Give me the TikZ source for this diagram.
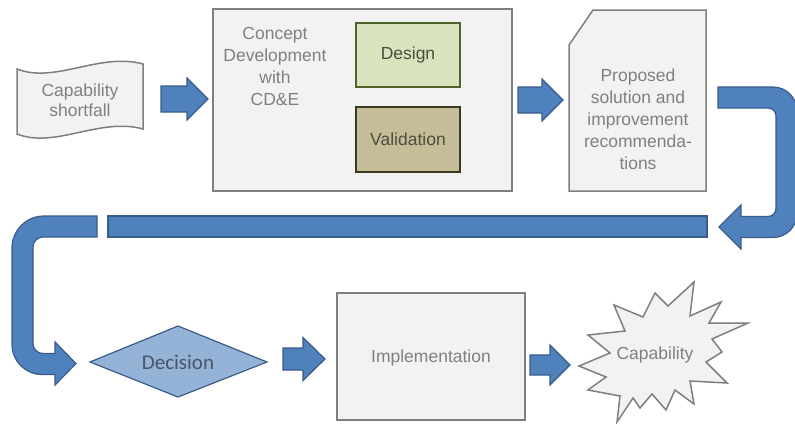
\documentclass[tikz,border=0pt]{standalone}
\usepackage{fontspec}
\setmainfont{Liberation Sans}
\newfontfamily\calibrifont{Carlito}

\definecolor{boxfill}{HTML}{F2F2F2}
\definecolor{boxline}{HTML}{7F7F7F}
\definecolor{textgray}{HTML}{808080}
\definecolor{arrowfill}{HTML}{4F81BD}
\definecolor{arrowline}{HTML}{385D8A}
\definecolor{decfill}{HTML}{95B3D7}
\definecolor{decline}{HTML}{385D8A}
\definecolor{dectext}{HTML}{4A5568}
\definecolor{designfill}{HTML}{D7E4BD}
\definecolor{designline}{HTML}{4F6228}
\definecolor{validfill}{HTML}{C4BD97}
\definecolor{validline}{HTML}{3C3820}
\definecolor{darktext}{HTML}{4D4D3F}

% block arrow: shaft start, head base, tip, centre y, shaft half height, head half height
\newcommand\blockarrow[6]{%
  \draw[blueshape] (#1,{#4-#5}) -- (#2,{#4-#5}) -- (#2,{#4-#6}) -- (#3,#4)
    -- (#2,{#4+#6}) -- (#2,{#4+#5}) -- (#1,{#4+#5}) -- cycle;}

\begin{document}
\begin{tikzpicture}[x=1pt,y=-1pt,
  txt/.style={text=textgray, font=\fontsize{17.5}{22}\selectfont, align=center, inner sep=0pt},
  graybox/.style={draw=boxline, fill=boxfill, line width=1.5pt, line join=miter},
  rectbox/.style={graybox, inner sep=0pt},
  blueshape/.style={draw=arrowline, fill=arrowfill, line width=1.2pt, line join=miter},
  innerbox/.style={line width=2pt, inner sep=0pt, minimum width=104pt,
    text=darktext, font=\fontsize{17.5}{22}\selectfont}]

\useasboundingbox (0,0) rectangle (795,423);
\fill[white] (0,0) rectangle (795,423);

% ---- top row ----
% capability shortfall (punched tape)
\draw[graybox] (17,69) .. controls (55,84) and (100,52) .. (143,64)
  -- (143,129) .. controls (100,117) and (55,149) .. (17,134) -- cycle;
\node[txt, font=\fontsize{17.5}{20}\selectfont] (shortfall) at (80,100) {Capability\\shortfall};

\blockarrow{161}{187}{208}{99}{13}{21}

% concept development box
\node[rectbox, minimum width=299pt, minimum height=182pt] (cde) at (362.5,100) {};
\node[txt] (cdetext) at (275,66) {Concept\\Development\\with\\CD\&E};
\node[innerbox, draw=designline, fill=designfill, minimum height=64pt] (design) at (408,55) {Design};
\node[innerbox, draw=validline, fill=validfill, minimum height=65pt] (valid) at (408,139.5) {Validation};

\blockarrow{518}{542}{563}{100}{13}{21}

% proposed solution (snipped corner)
\draw[graybox] (593,10) -- (706,10) -- (706,191) -- (569,191) -- (569,45) -- cycle;
\node[txt] (proposed) at (638,119.5) {Proposed\\solution and\\improvement\\recommenda-\\tions};

% ---- return path ----
\draw[blueshape] (718,87) [rounded corners=24pt] -- (797,87) [rounded corners=24pt] -- (797,237.5)
  [sharp corners] -- (741,237.5) -- (741,249) -- (719,227) -- (741,205) -- (741,216.5)
  [rounded corners=8pt] -- (776,216.5) -- (776,108) [sharp corners] -- (718,108) -- cycle;

\draw[blueshape] (108,216) rectangle (707,237);

\draw[blueshape] (97,216) [rounded corners=32pt] -- (12,216) [rounded corners=30pt] -- (12,374.5)
  [sharp corners] -- (55,374.5) -- (55,385) -- (76,363.5) -- (55,342) -- (55,353.5)
  [rounded corners=10pt] -- (33,353.5) -- (33,237) [sharp corners] -- (97,237) -- cycle;

% ---- bottom row ----
\draw[line width=1.2pt, draw=decline, fill=decfill, line join=miter]
  (90,362) -- (178,326) -- (267,362) -- (178,397) -- cycle;
\node[inner sep=0pt, text=dectext, font=\calibrifont\fontsize{21}{24}\selectfont] (decision) at (178,362) {Decision};

\blockarrow{283}{303}{325}{359}{11}{21.5}

\node[rectbox, minimum width=188pt, minimum height=127pt] (impl) at (431,356.5) {};
\node[txt] (impltext) at (431,358) {Implementation};

\blockarrow{530}{550}{570}{365}{10}{20}

% capability (explosion)
\draw[graybox] (694,282) -- (690,316) -- (721,302) -- (709,323) -- (748,323) -- (712,339)
  -- (722,352) -- (706,362) -- (727,383) -- (690,381) -- (694,404) -- (675,390)
  -- (666,410) -- (652,394) -- (640,408) -- (633,398) -- (617,422) -- (620,396)
  -- (588,390) -- (606,377) -- (579,366) -- (610,353) -- (588,335) -- (625,331)
  -- (614,305) -- (643,317) -- (655,293) -- (668,306) -- cycle;
\node[txt] (capability) at (655,355) {Capability};

\end{tikzpicture}
\end{document}
